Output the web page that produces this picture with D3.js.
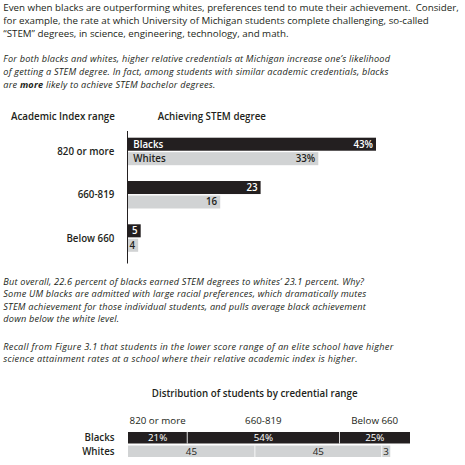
<!DOCTYPE html>
<html><head><meta charset="utf-8">
<script src="https://cdn.jsdelivr.net/npm/d3@7"></script>
<style>
html,body{margin:0;padding:0;background:#fff;}
svg{display:block;font-family:"Open Sans","Noto Sans",sans-serif;}
text{white-space:pre;}
</style></head><body>
<svg id="c" width="465" height="465"></svg>
<script>
// ---------- data ----------
const para1 = [
  "Even when blacks are outperforming whites, preferences tend to mute their achievement.  Consider,",
  "for example, the rate at which University of Michigan students complete challenging, so-called",
  "\u201CSTEM\u201D degrees, in science, engineering, technology, and math."
];
const para2 = [
  "For both blacks and whites, higher relative credentials at Michigan increase one\u2019s likelihood",
  "of getting a STEM degree. In fact, among students with similar academic credentials, blacks",
  "are **more** likely to achieve STEM bachelor degrees."
];
const para3 = [
  "But overall, 22.6 percent of blacks earned STEM degrees to whites\u2019 23.1 percent. Why?",
  "Some UM blacks are admitted with large racial preferences, which dramatically mutes",
  "STEM achievement for those individual students, and pulls average black achievement",
  "down below the white level."
];
const para4 = [
  "Recall from Figure 3.1 that students in the lower score range of an elite school have higher",
  "science attainment rates at a school where their relative academic index is higher."
];
const ranges = ["820 or more", "660-819", "Below 660"];
const groups = ["Blacks", "Whites"];
const stemBlacks = [43, 23, 5];
const stemWhites = [33, 16, 4];
const distBlacks = [21, 54, 25];
const distWhites = [45, 45, 3];
const topHeaderLeft = "Academic Index range";
const topHeaderRight = "Achieving STEM degree";
const bottomTitle = "Distribution of students by credential range";

// ---------- setup ----------
const svg = d3.select("#c");
const DARK = "#231f20", GRAY = "#d1d3d4";
const fill = d3.scaleOrdinal().domain(groups).range([DARK, GRAY]);
const ink = d3.scaleOrdinal().domain(groups).range(["#ffffff", DARK]);

function fitSize(node, base, targetW) {
  return base * targetW / node.getComputedTextLength();
}

// regular paragraph size (fit the first line to its width)
const probeR = svg.append("text").attr("font-size", 10).text(para1[0]);
const regSize = fitSize(probeR.node(), 10, 456);
probeR.remove();
const italicSize = regSize * 0.94;

// ---------- paragraphs ----------
function paragraph(lines, y0, lh, italic, targetW) {
  const g = svg.append("g").attr("fill", DARK)
    .attr("font-style", italic ? "italic" : "normal").attr("font-size", 10);
  const t = g.selectAll("text").data(lines).join("text")
    .attr("x", 3.3).attr("y", (d, i) => y0 + i * lh);
  t.each(function(d) {
    const parts = d.split("**");
    const s = d3.select(this);
    parts.forEach((p, k) => {
      s.append("tspan").attr("font-weight", k % 2 ? 700 : 400).text(p);
    });
  });
  if (!italic) {
    g.attr("font-size", fitSize(t.node(), 10, targetW));
  } else {
    g.attr("font-size", italicSize);
    const w = t.node().getComputedTextLength();
    const n = lines[0].length - 1;
    g.attr("letter-spacing", (targetW - w) / n);
  }
}
paragraph(para1, 10.6, 13.0, false, 456);
paragraph(para2, 62.4, 12.7, true, 386.7);
paragraph(para3, 285.0, 12.4, true, 360.7);
paragraph(para4, 349.8, 12.4, true, 390);

// ---------- top chart ----------
const topG = svg.append("g").attr("font-weight", 600).attr("font-size", 10).attr("fill", DARK);
const hdr = topG.append("text").attr("x", 11).attr("y", 120).text(topHeaderLeft);
const LS = fitSize(hdr.node(), 10, 104);
topG.attr("font-size", LS);
topG.append("text").attr("x", 157.7).attr("y", 120).text(topHeaderRight);

const xS = d3.scaleLinear().domain([0, 5, 10, 43]).range([128, 140.7, 185.6, 376]);
const yBand = d3.scaleBand().domain(ranges).range([137.7, 137.7 + 3 * 43.3]);
const ySub = d3.scaleBand().domain(groups).range([0, 27.5]).paddingInner(0.1);

const rows = ranges.map((r, i) => ({ r, i, vals: [
  { g: "Blacks", v: stemBlacks[i] }, { g: "Whites", v: stemWhites[i] }] }));

const rg = topG.selectAll("g.row").data(rows).join("g").attr("class", "row")
  .attr("transform", d => `translate(0,${yBand(d.r)})`);
rg.append("text").attr("x", 114.3).attr("y", 13.75 + 3.5)
  .attr("text-anchor", "end").text(d => d.r);

const bars = rg.selectAll("g.bar").data(d => d.vals.map(v => ({ ...v, i: d.i }))).join("g").attr("class", "bar");
bars.append("rect").attr("x", xS(0)).attr("y", d => ySub(d.g))
  .attr("width", d => xS(d.v) - xS(0)).attr("height", ySub.bandwidth())
  .attr("fill", d => fill(d.g));
bars.append("text").attr("x", d => xS(d.v) - 3).attr("y", d => ySub(d.g) + ySub.bandwidth() / 2 + 3.5)
  .attr("text-anchor", "end").attr("fill", d => ink(d.g))
  .text(d => d.v + (d.i === 0 ? "%" : ""));
bars.filter(d => d.i === 0).append("text").attr("x", xS(0) + 5.3)
  .attr("y", d => ySub(d.g) + ySub.bandwidth() / 2 + 3.5)
  .attr("fill", d => ink(d.g)).text(d => d.g);

topG.append("line").attr("x1", 127.5).attr("x2", 127.5).attr("y1", 131).attr("y2", 263.5)
  .attr("stroke", DARK).attr("stroke-width", 1);

// ---------- bottom chart ----------
const bot = svg.append("g").attr("font-weight", 600).attr("font-size", LS).attr("fill", DARK);
const x2 = d3.scaleLinear().domain([0, 100]).range([128, 410]);
const yRow = d3.scaleBand().domain(groups).range([432, 457]).paddingInner(0.15);

const ttl = bot.append("text").attr("x", 254.7).attr("y", 397).attr("text-anchor", "middle")
  .attr("font-size", 10).text(bottomTitle);
ttl.attr("font-size", fitSize(ttl.node(), 10, 206));

function stackRow(vals) {
  let c = 0;
  return vals.map((v, i) => { const s = { v, i, x0: c, x1: c + v }; c += v; return s; });
}
const blackSegs = stackRow(distBlacks);
bot.selectAll("text.col").data(blackSegs).join("text").attr("class", "col")
  .attr("x", d => (x2(d.x0) + x2(d.x1)) / 2).attr("y", 423.5).attr("text-anchor", "middle")
  .attr("font-weight", 400).text((d, i) => ranges[i]);

const distRows = [{ g: "Blacks", segs: blackSegs }, { g: "Whites", segs: stackRow(distWhites) }];
const dr = bot.selectAll("g.drow").data(distRows).join("g").attr("class", "drow")
  .attr("transform", d => `translate(0,${yRow(d.g)})`);
dr.append("text").attr("x", 114.5).attr("y", yRow.bandwidth() / 2 + 3.5)
  .attr("text-anchor", "end").text(d => d.g);
const seg = dr.selectAll("g.seg").data(d => d.segs.map(s => ({ ...s, g: d.g }))).join("g").attr("class", "seg");
seg.append("rect").attr("x", d => x2(d.x0)).attr("width", d => x2(d.x1) - x2(d.x0))
  .attr("y", 0).attr("height", yRow.bandwidth()).attr("fill", d => fill(d.g));
seg.filter(d => d.i > 0).append("line").attr("x1", d => x2(d.x0)).attr("x2", d => x2(d.x0))
  .attr("y1", 0).attr("y2", yRow.bandwidth()).attr("stroke", "#fff").attr("stroke-width", 0.8);
seg.append("text").attr("x", d => (x2(d.x0) + x2(d.x1)) / 2).attr("y", yRow.bandwidth() / 2 + 3.5)
  .attr("text-anchor", "middle").attr("fill", d => ink(d.g)).attr("font-weight", 400)
  .text(d => d.g === "Blacks" ? d.v + "%" : d.v);
</script>
</body></html>
